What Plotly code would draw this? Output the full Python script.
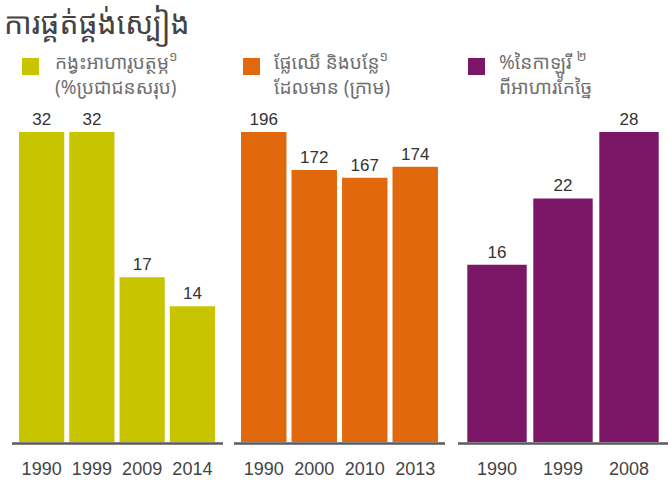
import plotly.graph_objects as go

title_text = "ការផ្គត់ផ្គង់ស្បៀង"
panel_labels = [
    "កង្វះអាហារូបត្ថម្ភ<sup>១</sup><br>(%ប្រជាជនសរុប)",
    "ផ្លែឈើ និងបន្លែ<sup>១</sup><br>ដែលមាន (ក្រាម)",
    "%នៃកាឡូរី <sup>២</sup><br>ពីអាហារកែច្នៃ",
]
years_1 = ["1990", "1999", "2009", "2014"]
values_1 = [32, 32, 17, 14]
years_2 = ["1990", "2000", "2010", "2013"]
values_2 = [196, 172, 167, 174]
years_3 = ["1990", "1999", "2008"]
values_3 = [16, 22, 28]

colors = ["#c8c400", "#e2680e", "#7b1766"]
W, H = 668, 481

def px(x):
    return x / W

def py(y):
    return (H - y) / H

base_y, top_y = 442, 132
x_domains = [(16.5, 217.5), (238.5, 440.5), (464, 662)]
axis_lines = [(12, 223), (234, 445), (458, 668)]
legend_sq = [22, 243, 468]
legend_tx = [53, 272, 497]

num_font = "Liberation Sans, Arial, sans-serif"
khmer_font = "Noto Sans Khmer, Khmer OS, Noto Sans, sans-serif"

fig = go.Figure()
series = [(years_1, values_1), (years_2, values_2), (years_3, values_3)]
for i, (yrs, vals) in enumerate(series):
    n = "" if i == 0 else str(i + 1)
    fig.add_trace(go.Bar(
        x=yrs, y=vals, xaxis="x" + n, yaxis="y" + n,
        marker=dict(color=colors[i], line=dict(width=0)),
        text=[str(v) for v in vals], textposition="outside",
        textfont=dict(family=num_font, size=17, color="#333"),
        cliponaxis=False, showlegend=False, hoverinfo="skip",
    ))
    d = x_domains[i]
    fig.update_layout(**{
        "xaxis" + n: dict(domain=[px(d[0]), px(d[1])], anchor="y" + n, type="category",
                          showgrid=False, zeroline=False, showline=False, ticks="",
                          tickfont=dict(family=num_font, size=18, color="#444"),
                          ticklabelstandoff=14, fixedrange=True),
        "yaxis" + n: dict(domain=[py(base_y), py(top_y)], anchor="x" + n, range=[0, max(vals)],
                          visible=False, fixedrange=True),
    })
    a = axis_lines[i]
    fig.add_shape(type="line", xref="paper", yref="paper",
                  x0=px(a[0]), x1=px(a[1]), y0=py(base_y + 1.5), y1=py(base_y + 1.5),
                  line=dict(color="#5a5a5a", width=2.5))
    s = legend_sq[i]
    fig.add_shape(type="rect", xref="paper", yref="paper",
                  x0=px(s), x1=px(s + 17), y0=py(75), y1=py(58),
                  fillcolor=colors[i], line=dict(width=0))
    fig.add_annotation(xref="paper", yref="paper", x=px(legend_tx[i]), y=py(45),
                       xanchor="left", yanchor="top", align="left", showarrow=False,
                       text=panel_labels[i],
                       font=dict(family=khmer_font, size=19, color="#707070"))

fig.add_annotation(xref="paper", yref="paper", x=px(2), y=py(0), xanchor="left", yanchor="top",
                   showarrow=False, text=title_text,
                   font=dict(family=khmer_font, size=30, color="#444"))

fig.update_layout(width=W, height=H, margin=dict(l=0, r=0, t=0, b=0),
                  paper_bgcolor="white", plot_bgcolor="white", bargap=0.1)
fig.write_html("out.html", config={"displayModeBar": False, "staticPlot": True},
               post_script="document.body.style.margin='0';")
